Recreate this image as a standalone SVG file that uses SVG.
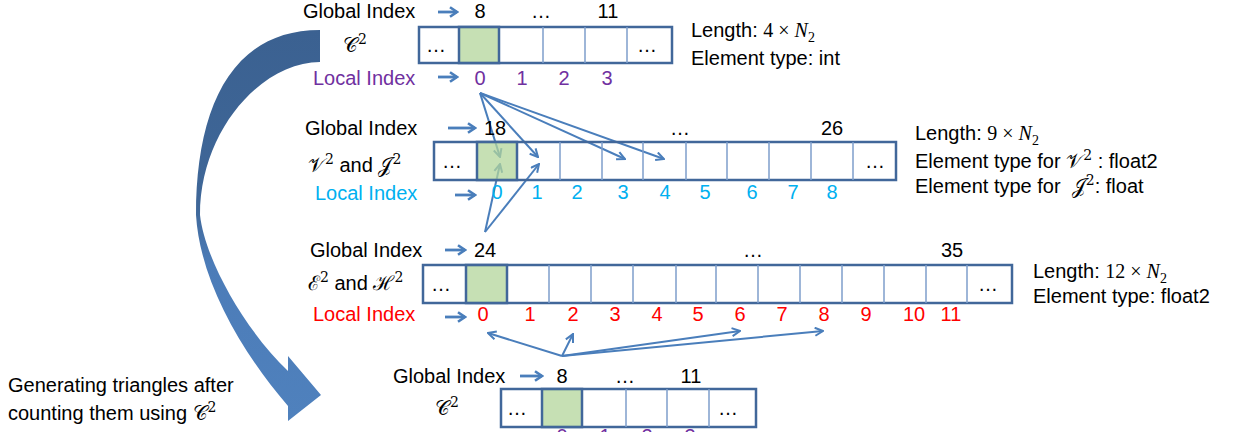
<svg xmlns="http://www.w3.org/2000/svg" width="1236" height="432" viewBox="0 0 1236 432">
<style>
.t{font-family:"Liberation Sans",Arial,sans-serif;font-size:20px;fill:#000}
.m{font-family:"DejaVu Serif","Liberation Serif",serif;font-size:20px}
.ms{font-family:"Liberation Serif",serif}
.mi{font-family:"Liberation Serif",serif;font-style:italic}
.sup{font-size:14px}
.lp{fill:#7030A0}.lb{fill:#00B0F0}.lr{fill:#FF0000}
.c{text-anchor:middle}
.box{fill:none;stroke:#41679A;stroke-width:2.5}
.dv{stroke:#7E9ECB;stroke-width:1.5}
.g{fill:#B3D69B;fill-opacity:.75;stroke:#41679A;stroke-width:2.5}
.conn{fill:none;stroke:#4A7EBB;stroke-width:2;marker-end:url(#ah)}
.la{fill:none;stroke:#4A7EBB;stroke-width:2.8;marker-end:url(#ah2)}
</style>
<defs>
<marker id="ah" viewBox="0 0 10 10" refX="9" refY="5" markerWidth="10" markerHeight="10" markerUnits="userSpaceOnUse" orient="auto">
<path d="M1,1 L9,5 L1,9" fill="none" stroke="#4A7EBB" stroke-width="2"/>
</marker>
<marker id="ah2" viewBox="0 0 10 12" refX="8.5" refY="6" markerWidth="10" markerHeight="12" markerUnits="userSpaceOnUse" orient="auto">
<path d="M1.5,1.2 L8.5,6 L1.5,10.8" fill="none" stroke="#4A7EBB" stroke-width="2.6"/>
</marker>
<linearGradient id="cg" gradientUnits="userSpaceOnUse" x1="0" y1="30" x2="0" y2="420">
<stop offset="0" stop-color="#3B6191"/>
<stop offset="0.45" stop-color="#3F6798"/>
<stop offset="0.6" stop-color="#4C7CB8"/>
<stop offset="1" stop-color="#4F81BD"/>
</linearGradient>
</defs>

<g id="curved-arrow">
<path d="M320,30 C230,30 196,110 196,215 C200,280 240,350 288,406 L288,421 L321,395 L288,356 L288,371 C245,330 205,260 200,215 C200,130 262,62 320,62 Z" fill="url(#cg)"/>
<text class="t" x="8" y="392">Generating triangles after</text>
<text class="t" x="8" y="420">counting them using <tspan class="m">𝒞</tspan><tspan class="m sup" dy="-8">2</tspan></text>
</g>

<g id="connectors">
<path class="conn" d="M480,93 L500,157"/>
<path class="conn" d="M480,93 L538,157"/>
<path class="conn" d="M480,93 L625,159"/>
<path class="conn" d="M480,93 L664,159"/>
<path class="conn" d="M485,232 L500,164"/>
<path class="conn" d="M485,232 L539,164"/>
<path class="conn" d="M562,356 L488,333"/>
<path class="conn" d="M562,356 L573,334"/>
<path class="conn" d="M562,356 L740,331"/>
<path class="conn" d="M562,356 L823,331"/>
<path class="la" d="M438,12 L457,12"/>
<path class="la" d="M438,77 L457,77"/>
<path class="la" d="M448,128 L475,128"/>
<path class="la" d="M455,195 L475,195"/>
<path class="la" d="M445,250 L465,250"/>
<path class="la" d="M445,317 L465,317"/>
<path class="la" d="M520,376 L542,376"/>
</g>

<g id="array-C2-top">
<text class="t" x="303" y="18">Global Index</text>
<text class="t c" x="480" y="18">8</text>
<text class="t c" x="541" y="18">…</text>
<text class="t c" x="608" y="18">11</text>
<text x="343" y="52"><tspan class="m">𝒞</tspan><tspan class="m sup" dy="-8">2</tspan></text>
<rect class="box" x="419" y="27" width="253" height="36"/>
<line class="dv" x1="543" y1="27" x2="543" y2="63"/>
<line class="dv" x1="585" y1="27" x2="585" y2="63"/>
<line class="dv" x1="627" y1="27" x2="627" y2="63"/>
<rect class="g" x="459" y="27" width="40" height="36"/>
<text class="t c" x="436" y="52">…</text>
<text class="t c" x="647" y="52">…</text>
<text class="t lp" x="313" y="85">Local Index</text>
<text class="t lp c" x="480" y="85">0</text>
<text class="t lp c" x="522" y="85">1</text>
<text class="t lp c" x="564" y="85">2</text>
<text class="t lp c" x="607" y="85">3</text>
<text class="t" x="691" y="37">Length: <tspan class="ms">4 × </tspan><tspan class="mi">N</tspan><tspan class="ms sup" dy="5">2</tspan></text>
<text class="t" x="691" y="65">Element type: int</text>
</g>

<g id="array-V2-J2">
<text class="t" x="305" y="135">Global Index</text>
<text class="t c" x="495" y="135">18</text>
<text class="t c" x="680" y="135">…</text>
<text class="t c" x="832" y="135">26</text>
<text class="t" x="308" y="172"><tspan class="m">𝒱</tspan><tspan class="m sup" dy="-8">2</tspan><tspan dy="8"> and </tspan><tspan class="m">𝒥</tspan><tspan class="m sup" dy="-8">2</tspan></text>
<rect class="box" x="434" y="142" width="462" height="38"/>
<line class="dv" x1="560" y1="142" x2="560" y2="180"/>
<line class="dv" x1="602" y1="142" x2="602" y2="180"/>
<line class="dv" x1="643" y1="142" x2="643" y2="180"/>
<line class="dv" x1="686" y1="142" x2="686" y2="180"/>
<line class="dv" x1="727" y1="142" x2="727" y2="180"/>
<line class="dv" x1="769" y1="142" x2="769" y2="180"/>
<line class="dv" x1="811" y1="142" x2="811" y2="180"/>
<line class="dv" x1="853" y1="142" x2="853" y2="180"/>
<line class="dv" x1="517" y1="142" x2="517" y2="180"/>
<rect class="g" x="477" y="142" width="40" height="38"/>
<text class="t c" x="452" y="168">…</text>
<text class="t c" x="875" y="168">…</text>
<text class="t lb" x="315" y="200">Local Index</text>
<text class="t lb c" x="497" y="199">0</text>
<text class="t lb c" x="537" y="199">1</text>
<text class="t lb c" x="577" y="199">2</text>
<text class="t lb c" x="623" y="199">3</text>
<text class="t lb c" x="665" y="199">4</text>
<text class="t lb c" x="705" y="199">5</text>
<text class="t lb c" x="752" y="199">6</text>
<text class="t lb c" x="793" y="199">7</text>
<text class="t lb c" x="832" y="199">8</text>
<text class="t" x="915" y="140">Length: <tspan class="ms">9 × </tspan><tspan class="mi">N</tspan><tspan class="ms sup" dy="5">2</tspan></text>
<text class="t" x="915" y="168">Element type for <tspan class="m">𝒱</tspan><tspan class="m sup" dy="-8">2</tspan><tspan dy="8"> : float2</tspan></text>
<text class="t" x="915" y="193">Element type for&#160; <tspan class="m">𝒥</tspan><tspan class="m sup" dy="-8">2</tspan><tspan dy="8">: float</tspan></text>
</g>

<g id="array-E2-H2">
<text class="t" x="310" y="257">Global Index</text>
<text class="t c" x="485" y="257">24</text>
<text class="t c" x="753" y="257">…</text>
<text class="t c" x="952" y="257">35</text>
<text class="t" x="308" y="290"><tspan class="m">ℰ</tspan><tspan class="m sup" dy="-8">2</tspan><tspan dy="8"> and </tspan><tspan class="m">ℋ</tspan><tspan class="m sup" dy="-8">2</tspan></text>
<rect class="box" x="423" y="265" width="589" height="38"/>
<line class="dv" x1="549" y1="265" x2="549" y2="303"/>
<line class="dv" x1="591" y1="265" x2="591" y2="303"/>
<line class="dv" x1="633" y1="265" x2="633" y2="303"/>
<line class="dv" x1="676" y1="265" x2="676" y2="303"/>
<line class="dv" x1="716" y1="265" x2="716" y2="303"/>
<line class="dv" x1="758" y1="265" x2="758" y2="303"/>
<line class="dv" x1="800" y1="265" x2="800" y2="303"/>
<line class="dv" x1="842" y1="265" x2="842" y2="303"/>
<line class="dv" x1="884" y1="265" x2="884" y2="303"/>
<line class="dv" x1="926" y1="265" x2="926" y2="303"/>
<line class="dv" x1="967" y1="265" x2="967" y2="303"/>
<rect class="g" x="466" y="265" width="41" height="38"/>
<text class="t c" x="441" y="291">…</text>
<text class="t c" x="988" y="291">…</text>
<text class="t lr" x="313" y="321">Local Index</text>
<text class="t lr c" x="483" y="321">0</text>
<text class="t lr c" x="530" y="321">1</text>
<text class="t lr c" x="573" y="321">2</text>
<text class="t lr c" x="615" y="321">3</text>
<text class="t lr c" x="657" y="321">4</text>
<text class="t lr c" x="698" y="321">5</text>
<text class="t lr c" x="740" y="321">6</text>
<text class="t lr c" x="782" y="321">7</text>
<text class="t lr c" x="824" y="321">8</text>
<text class="t lr c" x="866" y="321">9</text>
<text class="t lr c" x="914" y="321">10</text>
<text class="t lr c" x="951" y="321">11</text>
<text class="t" x="1033" y="278">Length: <tspan class="ms">12 × </tspan><tspan class="mi">N</tspan><tspan class="ms sup" dy="5">2</tspan></text>
<text class="t" x="1033" y="303">Element type: float2</text>
</g>

<g id="array-C2-bottom">
<text class="t" x="393" y="383">Global Index</text>
<text class="t c" x="562" y="383">8</text>
<text class="t c" x="625" y="383">…</text>
<text class="t c" x="691" y="383">11</text>
<text x="435" y="415"><tspan class="m">𝒞</tspan><tspan class="m sup" dy="-8">2</tspan></text>
<rect class="box" x="501" y="389" width="255" height="38"/>
<line class="dv" x1="626" y1="389" x2="626" y2="427"/>
<line class="dv" x1="667" y1="389" x2="667" y2="427"/>
<line class="dv" x1="709" y1="389" x2="709" y2="427"/>
<rect class="g" x="542" y="389" width="40" height="38"/>
<text class="t c" x="517" y="415">…</text>
<text class="t c" x="728" y="415">…</text>
<text class="t lp c" x="562" y="443">0</text>
<text class="t lp c" x="605" y="443">1</text>
<text class="t lp c" x="647" y="443">2</text>
<text class="t lp c" x="690" y="443">3</text>
</g>
</svg>
